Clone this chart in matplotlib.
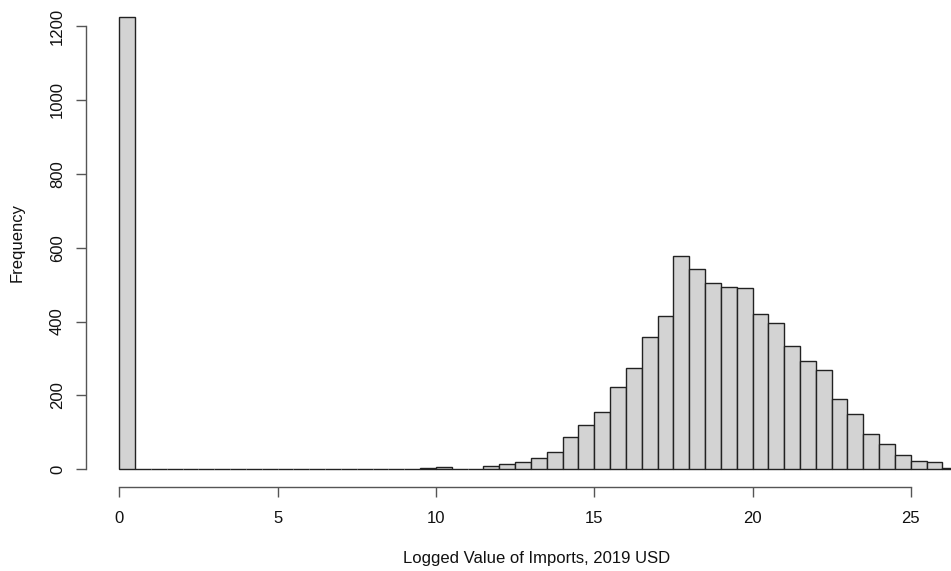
import numpy as np
import matplotlib
matplotlib.use("Agg")
import matplotlib.pyplot as plt

# ---- data ----
bin_width = 0.5
bin_start = 0.0
counts = [1225,                      # 0-0.5
          0, 0, 0, 0, 0, 0, 0, 0, 0, 0, 0, 0, 0,   # 0.5-7
          1, 0, 1, 0, 0,             # 7-9.5
          3, 5, 0, 2, 10, 13, 19, 30, 46, 87, 120,  # 9.5-15
          154, 222, 273, 359, 415, 577, 543, 504, 494, 490,  # 15-20
          420, 396, 335, 294, 270, 189, 149, 96, 68, 38,     # 20-25
          23, 20, 3]                 # 25-26.5
x_ticks = [0, 5, 10, 15, 20, 25]
y_ticks = [0, 200, 400, 600, 800, 1000, 1200]
x_label = "Logged Value of Imports, 2019 USD"
y_label = "Frequency"

edges = bin_start + bin_width * np.arange(len(counts) + 1)

plt.rcParams['font.family'] = ['Liberation Sans', 'DejaVu Sans']

W, H = 951, 571
fig = plt.figure(figsize=(W / 100, H / 100), dpi=100)

# pixel geometry
ax_left_px, ax_right_px = 86, 951
ax_bottom_px, ax_top_px = 487.3, 5
x0_px, px_per_x = 119.3, 31.66
y0_px, px_per_y = 469.3, 0.3694

ax = fig.add_axes([ax_left_px / W, (H - ax_bottom_px) / H,
                   (ax_right_px - ax_left_px) / W, (ax_bottom_px - ax_top_px) / H])
ax.set_xlim((ax_left_px - x0_px) / px_per_x, (ax_right_px - x0_px) / px_per_x)
ax.set_ylim((y0_px - ax_bottom_px) / px_per_y, (y0_px - ax_top_px) / px_per_y)

ax.bar(edges[:-1], counts, width=bin_width, align='edge',
       color='#D3D3D3', edgecolor='#222222', linewidth=1.0)

for s in ['top', 'right']:
    ax.spines[s].set_visible(False)
ax.spines['left'].set_bounds(y_ticks[0], y_ticks[-1])
ax.spines['bottom'].set_bounds(x_ticks[0], x_ticks[-1])
for s in ['left', 'bottom']:
    ax.spines[s].set_color('#555555')
    ax.spines[s].set_linewidth(1.0)

ax.set_xticks(x_ticks)
ax.set_yticks(y_ticks)
ax.set_xticklabels([str(t) for t in x_ticks])
ax.set_yticklabels([str(t) for t in y_ticks], rotation=90, va='center')
ax.tick_params(axis='both', direction='out', length=7.2, width=1.0,
               color='#555555', labelsize=12, labelcolor='#111111')
ax.tick_params(axis='x', pad=10)
ax.tick_params(axis='y', pad=8)

fig.text(537 / W, 1 - 559 / H, x_label, ha='center', va='center', fontsize=12, color='#111111')
fig.text(17 / W, 1 - 243 / H, y_label, ha='center', va='center', rotation=90, fontsize=12, color='#111111')

fig.savefig("out.png", dpi=100)
